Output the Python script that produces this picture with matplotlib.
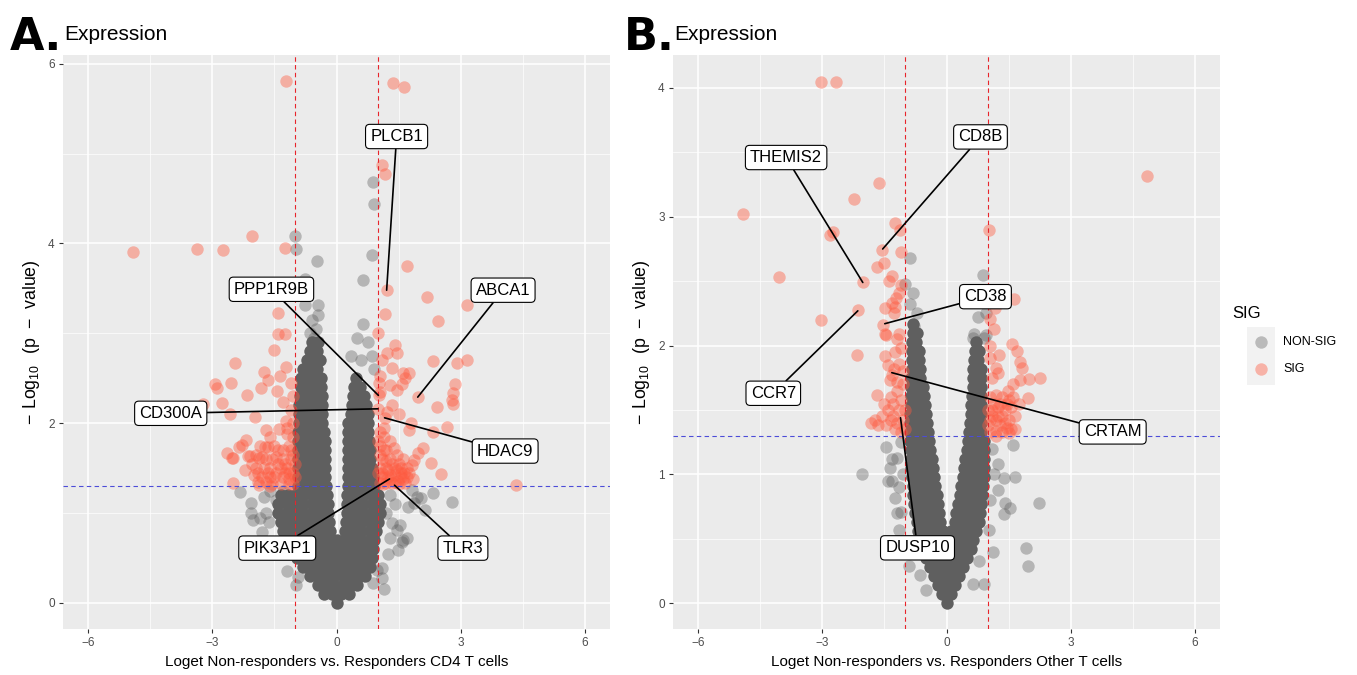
import matplotlib
matplotlib.use('Agg')
import matplotlib.pyplot as plt

plt.rcParams['font.family'] = ['Liberation Sans', 'DejaVu Sans']
plt.rcParams['mathtext.fontset'] = 'custom'
plt.rcParams['mathtext.rm'] = 'Liberation Sans'

# ---------------- data: panel A (CD4 T cells) ----------------
# dense body of the NON-SIG volcano: (-log10 p, [log fold changes])
A_CORE = [
    (0.0, [0.0]),
    (0.1, [-0.3, -0.1, 0.1, 0.3]),
    (0.2, [-0.45, -0.25, -0.05, 0.15, 0.35, 0.5]),
    (0.3, [-0.65, -0.45, -0.25, -0.05, 0.15, 0.35, 0.55, 0.68]),
    (0.4, [-0.8, -0.6, -0.4, -0.2, 0.0, 0.2, 0.4, 0.6, 0.8]),
    (0.5, [-0.95, -0.75, -0.55, -0.35, -0.15, 0.05, 0.25, 0.45, 0.65, 0.85]),
    (0.6, [-1.05, -0.85, -0.65, -0.45, -0.25, -0.05, 0.15, 0.35, 0.55, 0.75, 0.88]),
    (0.7, [-1.2, -1.0, -0.8, -0.6, -0.4, -0.2, 0.0, 0.2, 0.4, 0.6, 0.8, 0.9]),
    (0.8, [-1.3, -1.1, -0.9, -0.7, -0.5, -0.3, -0.15, 0.2, 0.4, 0.6, 0.8, 0.95]),
    (0.9, [-1.35, -1.15, -0.95, -0.75, -0.55, -0.35, -0.18, 0.22, 0.4, 0.6, 0.8, 1.0]),
    (1.0, [-1.4, -1.2, -1.0, -0.8, -0.6, -0.4, -0.2, 0.25, 0.45, 0.65, 0.85, 1.05]),
    (1.1, [-1.4, -1.2, -1.0, -0.8, -0.6, -0.4, -0.2, 0.25, 0.45, 0.65, 0.85, 1.05]),
    (1.2, [-1.35, -1.18, -1.0, -0.8, -0.6, -0.4, -0.22, 0.25, 0.45, 0.65, 0.85, 1.0]),
    (1.3, [-0.92, -0.76, -0.6, -0.42, -0.25, 0.27, 0.45, 0.63, 0.8, 0.9]),
    (1.4, [-0.92, -0.76, -0.6, -0.43, -0.27, 0.27, 0.45, 0.63, 0.8, 0.88]),
    (1.5, [-0.92, -0.76, -0.6, -0.43, -0.27, 0.27, 0.45, 0.63, 0.8, 0.85]),
    (1.6, [-0.92, -0.76, -0.6, -0.43, -0.27, 0.27, 0.45, 0.63, 0.8]),
    (1.7, [-0.92, -0.76, -0.6, -0.43, -0.28, 0.27, 0.45, 0.63, 0.8]),
    (1.8, [-0.92, -0.76, -0.6, -0.43, -0.28, 0.27, 0.45, 0.63, 0.78]),
    (1.9, [-0.92, -0.76, -0.6, -0.43, -0.3, 0.27, 0.45, 0.6, 0.75]),
    (2.0, [-0.9, -0.72, -0.55, -0.35, 0.28, 0.45, 0.6, 0.75]),
    (2.1, [-0.9, -0.72, -0.55, -0.35, 0.35, 0.5, 0.65, 0.75]),
    (2.2, [-0.9, -0.72, -0.55, -0.36, 0.38, 0.52, 0.66, 0.72]),
    (2.3, [-0.88, -0.7, -0.53, -0.36, 0.4, 0.54, 0.66]),
    (2.4, [-0.85, -0.68, -0.52, -0.37, 0.42, 0.56]),
    (2.5, [-0.85, -0.68, -0.52, -0.38, 0.48]),
    (2.6, [-0.8, -0.63, -0.46]),
    (2.7, [-0.72, -0.55, -0.4]),
    (2.8, [-0.65, -0.48]),
    (2.9, [-0.58, -0.45]),
]

A_NS_X = [-0.99, -0.97, -0.48, 0.87, 0.9, 0.85, 0.63, 0.65, -0.75, -0.75, -0.44,
          -0.6, -0.5, -0.45, -0.65, -0.55, 0.5, 0.75, 0.85, 0.6, 0.9, 0.35,
          -2.33, -2.06, -1.75, -2.06, -2.01, -1.79, -0.92, -0.97, -1.6, -1.7,
          -1.5, -1.62, -1.85, -1.45, -1.3, -1.2,
          1.48, 1.57, 1.69, 1.33, 1.53, 1.72, 2.13, 2.32, 1.94, 1.09, 1.09,
          2.78, 1.82, 1.45, 1.6, 1.28, 0.87, 0.97, 1.86, 2.03, 1.4, 1.3, 1.25,
          1.15, 1.2]
A_NS_Y = [4.08, 3.94, 3.8, 4.68, 4.44, 3.87, 3.59, 3.1, 3.6, 3.32, 3.31,
          3.15, 3.05, 3.2, 3.0, 2.95, 2.95, 2.9, 2.75, 2.7, 2.6, 2.75,
          1.23, 1.11, 1.18, 1.0, 0.92, 0.79, 0.29, 0.2, 1.25, 1.0,
          0.6, 0.9, 0.95, 1.15, 1.25, 0.35,
          0.59, 0.68, 0.72, 0.89, 0.87, 1.07, 1.03, 1.22, 1.18, 0.39, 0.28,
          1.12, 1.26, 0.81, 0.7, 0.72, 0.22, 0.37, 1.11, 1.17, 1.1, 1.2, 0.55,
          0.15, 1.0]

A_SIG_X = [-1.21, 1.36, 1.62, 1.11, 1.16,
           -4.92, -3.36, -2.74, -2.04, -1.25,
           1.69, 1.21, 2.18, 2.45, 3.15, 1.16, 1.0, -1.4, -1.4, -1.25,
           -2.45, -2.93, -2.88, -2.54, -2.76, -3.22, -2.16, -2.57, -1.83, -1.65,
           -1.44, -1.75, -1.36, -1.23, -1.52, -1.3, -1.97, -1.23, -1.7, -1.38,
           -2.18, -2.28, -2.64, -2.49, -2.13, -1.86, -1.65, -2.49, -1.86,
           -2.35, -2.08, -1.72, -2.52,
           -2.05, -1.9, -1.75, -1.6, -1.45, -1.3, -1.15, -1.05, -1.95, -1.8,
           -1.55, -1.4, -1.25, -1.1, -1.5, -1.3, -1.15, -1.05, -1.6, -1.2,
           -1.7, -1.55, -1.35, -1.15, -1.05, -2.2, -1.9, -1.05, -1.1, -1.05,
           -1.1, -1.2, -1.05, -1.25, -2.0, -1.6,
           -1.95, -1.8, -1.65, -1.5, -1.35, -1.2, -1.1, -1.4, -1.7, -1.85,
           -1.3, -1.15, -1.45, -1.6, -1.0, -1.0,
           4.33, 3.15, 2.91, 2.32, 2.86, 2.81, 2.78, 2.81, 2.42, 1.96,
           2.66, 2.32, 1.79, 1.76, 2.08, 1.96, 1.86, 1.82, 2.28, 2.52,
           1.4, 1.45, 1.23, 1.09, 1.33, 1.6, 1.76, 1.28, 1.45, 1.57, 1.65,
           1.33, 1.23, 1.16, 1.05, 1.05, 1.5, 1.01, 1.02, 1.03,
           1.05, 1.15, 1.05, 1.2, 1.1, 1.3, 1.05, 1.2, 1.4, 1.55, 1.1, 1.25,
           1.4, 1.55, 1.7, 1.05, 1.2, 1.35, 1.5, 1.65, 1.3, 1.45, 1.6, 1.75,
           1.85, 1.15, 1.38, 1.28, 1.48, 1.62,
           1.1, 1.25, 1.4, 1.55, 1.35, 1.2, 1.45, 1.6, 1.15, 1.05, 1.3, 1.5,
           1.0, 1.0, 1.7, 1.12]
A_SIG_Y = [5.81, 5.79, 5.74, 4.87, 4.77,
           3.9, 3.94, 3.93, 4.08, 3.95,
           3.75, 3.48, 3.4, 3.14, 3.32, 3.21, 3.0, 3.23, 2.99, 2.99,
           2.67, 2.44, 2.39, 2.45, 2.23, 2.21, 2.31, 2.1, 2.39, 2.48,
           2.36, 2.57, 2.53, 2.62, 2.82, 2.24, 2.07, 2.03, 1.92, 1.94,
           1.81, 1.76, 1.67, 1.61, 1.64, 1.61, 1.73, 1.33, 1.31,
           1.73, 1.64, 1.73, 1.61,
           1.55, 1.45, 1.5, 1.4, 1.45, 1.4, 1.38, 1.45, 1.65, 1.62,
           1.6, 1.55, 1.55, 1.6, 1.75, 1.7, 1.75, 1.85, 1.85, 1.88,
           1.35, 1.32, 1.32, 1.32, 1.32, 1.48, 1.35, 2.0, 2.15, 2.3,
           2.45, 1.95, 1.65, 1.45, 1.42, 1.5,
           1.5, 1.4, 1.45, 1.4, 1.5, 1.5, 1.7, 1.7, 1.6, 1.75,
           1.6, 1.45, 1.62, 1.3, 1.55, 1.4,
           1.31, 2.7, 2.67, 2.69, 2.44, 2.34, 2.26, 2.21, 2.18, 2.29,
           1.96, 1.9, 2.0, 1.92, 1.72, 1.67, 1.59, 1.53, 1.56, 1.43,
           2.87, 2.78, 2.78, 2.7, 2.61, 2.56, 2.56, 2.42, 2.37, 2.44, 2.5,
           2.2, 2.12, 2.06, 2.52, 2.35, 2.1, 2.16, 2.31, 2.45,
           1.9, 1.85, 1.75, 1.7, 1.6, 1.6, 1.5, 1.5, 1.5, 1.5, 1.4, 1.4,
           1.42, 1.4, 1.4, 1.33, 1.33, 1.33, 1.32, 1.33, 1.8, 1.65, 1.6, 1.45,
           1.38, 1.95, 1.72, 1.38, 1.36, 1.45,
           1.45, 1.48, 1.35, 1.45, 1.55, 1.58, 1.48, 1.38, 1.7, 1.65, 1.42, 1.55,
           1.45, 1.8, 1.5, 1.32]

A_GENES = ['PLCB1', 'ABCA1', 'PPP1R9B', 'CD300A', 'HDAC9', 'PIK3AP1', 'TLR3']
A_GENE_X = [1.21, 1.96, 1.01, 1.0, 1.16, 1.28, 1.4]
A_GENE_Y = [3.48, 2.29, 2.31, 2.16, 2.06, 1.38, 1.31]

# ---------------- data: panel B (Other T cells) ----------------
B_CORE = [
    (0.0, [0.0]),
    (0.07, [-0.1, 0.1]),
    (0.14, [-0.2, 0.0, 0.2]),
    (0.21, [-0.3, -0.1, 0.1, 0.3]),
    (0.28, [-0.4, -0.2, 0.0, 0.2, 0.4]),
    (0.35, [-0.5, -0.3, -0.1, 0.1, 0.3, 0.5]),
    (0.42, [-0.55, -0.35, -0.15, 0.05, 0.25, 0.45, 0.6]),
    (0.49, [-0.62, -0.42, -0.22, 0.0, 0.22, 0.42, 0.65]),
    (0.56, [-0.68, -0.48, -0.28, -0.08, 0.12, 0.32, 0.52, 0.72]),
    (0.63, [-0.72, -0.52, -0.32, -0.15, 0.2, 0.38, 0.58, 0.78]),
    (0.70, [-0.76, -0.56, -0.36, -0.18, 0.24, 0.42, 0.62, 0.82]),
    (0.77, [-0.78, -0.6, -0.4, -0.2, 0.28, 0.46, 0.66, 0.84]),
    (0.84, [-0.8, -0.62, -0.43, -0.24, 0.32, 0.5, 0.7, 0.86]),
    (0.91, [-0.82, -0.64, -0.46, -0.27, 0.36, 0.54, 0.72, 0.88]),
    (0.98, [-0.84, -0.66, -0.48, -0.3, 0.4, 0.57, 0.74, 0.9]),
    (1.05, [-0.85, -0.68, -0.5, -0.33, 0.42, 0.6, 0.76, 0.9]),
    (1.12, [-0.86, -0.69, -0.52, -0.36, 0.45, 0.62, 0.78, 0.9]),
    (1.19, [-0.86, -0.7, -0.54, -0.4, 0.5, 0.65, 0.8, 0.9]),
    (1.26, [-0.87, -0.71, -0.56, -0.42, 0.52, 0.67, 0.82, 0.9]),
    (1.33, [-0.87, -0.72, -0.58, -0.45, 0.55, 0.69, 0.83]),
    (1.40, [-0.87, -0.73, -0.6, -0.48, 0.57, 0.7, 0.84]),
    (1.47, [-0.87, -0.74, -0.61, -0.5, 0.58, 0.71, 0.84]),
    (1.54, [-0.86, -0.74, -0.62, -0.52, 0.6, 0.72, 0.84]),
    (1.61, [-0.86, -0.74, -0.63, -0.54, 0.62, 0.73, 0.84]),
    (1.68, [-0.85, -0.74, -0.64, -0.56, 0.63, 0.74, 0.84]),
    (1.75, [-0.85, -0.74, -0.64, 0.64, 0.75, 0.84]),
    (1.82, [-0.84, -0.74, -0.65, 0.65, 0.76, 0.84]),
    (1.89, [-0.84, -0.74, -0.66, 0.66, 0.76]),
    (1.96, [-0.84, -0.74, -0.66, 0.68, 0.78]),
    (2.03, [-0.84, -0.74, 0.7]),
    (2.10, [-0.82, -0.72]),
    (2.17, [-0.8]),
]

B_NS_X = [-0.87, 0.87, -1.01, -0.82, -0.87, 0.75, 0.96, 0.67, 0.96, 0.63, 0.91,
          -0.7, -0.78,
          -2.04, -1.47, -1.32, -1.2, -1.37, -1.32, -1.15, -1.1, -1.2, -1.15,
          -0.91, -0.63, -1.25, -1.05, -1.1, -1.4,
          1.61, 1.66, 1.39, 1.25, 1.42, 1.54, 1.39, 2.24, 1.92, 1.97, 1.13,
          0.79, 0.65, 1.03, 1.25, 1.1, 1.05, 1.15, 0.9, -0.5]
B_NS_Y = [2.68, 2.55, 2.48, 2.41, 2.32, 2.22, 2.25, 2.09, 2.08, 2.06, 2.06,
          2.25, 2.15,
          1.0, 1.21, 1.12, 1.13, 1.05, 0.95, 0.9, 0.71, 0.7, 0.57,
          0.29, 0.22, 0.82, 1.0, 1.25, 0.95,
          1.23, 0.98, 0.97, 0.88, 0.78, 0.74, 0.69, 0.78, 0.43, 0.29, 0.4,
          0.33, 0.15, 0.57, 1.08, 1.2, 0.8, 1.0, 0.15, 0.1]

B_SIG_X = [-3.03, -2.67, 4.83, -4.9, -1.63, -2.24, -2.81, -2.74, -1.25, -1.13,
           -1.1, -1.56, -1.68, -1.51, -4.04, -2.02, -1.32, -1.39, 1.03, -1.1,
           -1.15, -1.23, -1.32, -1.25, -1.49, -2.14, -3.03, -1.27, -1.54, -1.49,
           -1.15, 1.63, 1.18, 1.06, 1.15,
           -2.16, -1.49, -1.2, -1.47, -1.15, -1.27, -1.32, -1.37, -1.68, -1.73,
           -1.83, -1.66, -1.2,
           -1.5, -1.4, -1.3, -1.15, -1.05, -1.45, -1.25, -1.1, -1.55, -1.35,
           -1.1, -1.05, -1.25, -1.1, -1.4, -1.05,
           -1.2, -1.35, -1.0, -1.0, -1.3, -1.2,
           1.59, 1.71, 1.78, 1.83, 1.27, 1.2, 2.0, 2.26, 1.61, 1.78, 1.49,
           1.97, 1.25, 1.05, 1.1,
           1.05, 1.2, 1.35, 1.5, 1.1, 1.25, 1.4, 1.55, 1.05, 1.2, 1.35, 1.5,
           1.65, 1.05, 1.2, 1.35, 1.5, 1.65, 1.3, 1.45, 1.75, 1.6, 1.05,
           1.1, 1.25, 1.4, 1.15, 1.3, 1.45, 1.0, 1.0, 1.55, 1.2]
B_SIG_Y = [4.05, 4.05, 3.32, 3.02, 3.26, 3.14, 2.86, 2.88, 2.95, 2.9,
           2.73, 2.74, 2.61, 2.64, 2.53, 2.49, 2.54, 2.5, 2.9, 2.47,
           2.41, 2.37, 2.33, 2.3, 2.29, 2.28, 2.2, 2.25, 2.16, 2.09,
           2.09, 2.36, 2.29, 2.21, 2.13,
           1.93, 1.92, 2.05, 2.08, 1.86, 1.82, 1.77, 1.73, 1.62, 1.42,
           1.4, 1.38, 1.65,
           1.55, 1.5, 1.45, 1.5, 1.42, 1.38, 1.35, 1.33, 1.45, 1.6,
           1.58, 1.7, 1.95, 1.98, 1.85, 1.8,
           1.4, 1.42, 1.5, 1.35, 1.55, 1.72,
           2.01, 1.96, 1.87, 1.83, 1.93, 1.83, 1.74, 1.75, 1.7, 1.73, 1.65,
           1.59, 1.79, 1.9, 1.75,
           1.6, 1.62, 1.6, 1.58, 1.5, 1.52, 1.5, 1.52, 1.42, 1.42, 1.45, 1.42,
           1.45, 1.33, 1.34, 1.33, 1.32, 1.35, 1.38, 1.36, 1.55, 1.6, 2.0,
           1.45, 1.45, 1.4, 1.55, 1.55, 1.55, 1.5, 1.38, 1.35, 1.3]

B_GENES = ['THEMIS2', 'CD8B', 'CD38', 'CCR7', 'CRTAM', 'DUSP10']
B_GENE_X = [-2.02, -1.54, -1.49, -2.14, -1.32, -1.11]
B_GENE_Y = [2.49, 2.75, 2.17, 2.27, 1.79, 1.44]

# label box placement (layout, data coordinates)
A_BOX = [(1.45, 5.19), (4.02, 3.48), (-1.57, 3.49), (-4.0, 2.11),
         (4.07, 1.69), (-1.43, 0.61), (3.05, 0.61)]
B_BOX = [(-3.87, 3.46), (0.82, 3.62), (0.94, 2.38), (-4.18, 1.63),
         (4.01, 1.33), (-0.70, 0.43)]

GREY = '#5F5F5F'
RED = '#FF5A3F'
BG = '#EBEBEB'
PT = 80


def unpack(rows):
    xs, ys = [], []
    for y, row in rows:
        xs.extend(row)
        ys.extend([y] * len(row))
    return xs, ys


def panel(ax, core, nsx, nsy, sx, sy, genes, gx, gy, boxes, ylim, yticks, yminor, xlabel):
    ax.set_facecolor(BG)
    for s in ax.spines.values():
        s.set_visible(False)
    ax.set_xlim(-6.6, 6.6)
    ax.set_ylim(*ylim)
    ax.set_xticks([-6, -3, 0, 3, 6])
    ax.set_xticklabels(['\u22126', '\u22123', '0', '3', '6'])
    ax.set_xticks([-4.5, -1.5, 1.5, 4.5], minor=True)
    ax.set_yticks(yticks)
    ax.set_yticks(yminor, minor=True)
    ax.grid(which='major', color='white', lw=1.1)
    ax.grid(which='minor', color='white', lw=0.5)
    ax.set_axisbelow(True)
    ax.tick_params(which='major', length=3, width=0.8, color='#333333',
                   labelcolor='#4D4D4D', labelsize=8.5, pad=3)
    ax.tick_params(which='minor', length=0)

    cx, cy = unpack(core)
    ax.scatter(nsx, nsy, s=PT, color=GREY, alpha=0.38, lw=0, zorder=2)
    ax.scatter(cx, cy, s=PT, color=GREY, alpha=1.0, lw=0, zorder=2)
    ax.scatter(sx, sy, s=PT, color=RED, alpha=0.42, lw=0, zorder=3)

    ax.axvline(-1, color='#E8242B', lw=0.8, ls=(0, (4, 3)), zorder=4)
    ax.axvline(1, color='#E8242B', lw=0.8, ls=(0, (4, 3)), zorder=4)
    ax.axhline(1.30103, color='#4C4CD8', lw=0.8, ls=(0, (4, 3)), zorder=4)

    for g, x, y, (bx, by) in zip(genes, gx, gy, boxes):
        ax.annotate(g, xy=(x, y), xytext=(bx, by), textcoords='data',
                    ha='center', va='center', fontsize=12, zorder=6,
                    bbox=dict(boxstyle='round,pad=0.28,rounding_size=0.25',
                              fc='white', ec='black', lw=0.8),
                    arrowprops=dict(arrowstyle='-', color='black', lw=1.2,
                                    shrinkA=0, shrinkB=0))

    ax.set_xlabel(xlabel, fontsize=11, labelpad=4)
    ax.set_ylabel(r'$-\ \mathrm{Log}_{10}\ \ (\mathrm{p}\ -\ \mathrm{value})$',
                  fontsize=12.8, labelpad=4)


W, H = 1357, 675
fig = plt.figure(figsize=(W / 100, H / 100), dpi=100)

axA = fig.add_axes([63 / W, 46 / H, 547 / W, 574 / H])
panel(axA, A_CORE, A_NS_X, A_NS_Y, A_SIG_X, A_SIG_Y, A_GENES, A_GENE_X,
      A_GENE_Y, A_BOX, (-0.29, 6.097), [0, 2, 4, 6], [1, 3, 5],
      'Loget Non-responders vs. Responders CD4 T cells')

axB = fig.add_axes([673 / W, 46 / H, 547 / W, 574 / H])
panel(axB, B_CORE, B_NS_X, B_NS_Y, B_SIG_X, B_SIG_Y, B_GENES, B_GENE_X,
      B_GENE_Y, B_BOX, (-0.2, 4.256), [0, 1, 2, 3, 4], [0.5, 1.5, 2.5, 3.5],
      'Loget Non-responders vs. Responders Other T cells')

# panel tags and titles
fig.text(10 / W, 1 - 50 / H, 'A.', fontsize=32, fontweight='bold',
         family='DejaVu Sans', va='baseline')
fig.text(624 / W, 1 - 50 / H, 'B.', fontsize=32, fontweight='bold',
         family='DejaVu Sans', va='baseline')
fig.text(64 / W, 1 - 34 / H, 'Expression', fontsize=15, va='center')
fig.text(674 / W, 1 - 34 / H, 'Expression', fontsize=15, va='center')

# legend
fig.text(1232 / W, 1 - 313 / H, 'SIG', fontsize=12, va='center')
lg = fig.add_axes([1247 / W, 1 - 385 / H, 28 / W, 58 / H])
lg.set_facecolor('#F2F2F2')
lg.set_xlim(0, 1)
lg.set_ylim(0, 1)
lg.set_xticks([])
lg.set_yticks([])
for s in lg.spines.values():
    s.set_visible(False)
lg.scatter([0.5], [0.74], s=PT, color=GREY, alpha=0.38, lw=0)
lg.scatter([0.5], [0.27], s=PT, color=RED, alpha=0.42, lw=0)
fig.text(1283 / W, 1 - 342 / H, 'NON-SIG', fontsize=9, va='center')
fig.text(1283 / W, 1 - 369 / H, 'SIG', fontsize=9, va='center')

fig.savefig('out.png', dpi=100, facecolor='white')
